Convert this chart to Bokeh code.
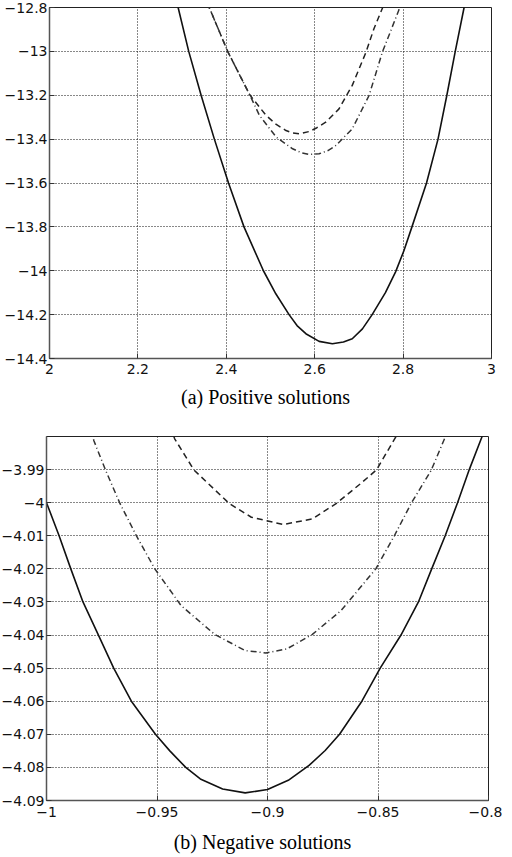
from bokeh.plotting import figure
from bokeh.layouts import column
from bokeh.models import FixedTicker
from bokeh.embed import file_html
from bokeh.resources import INLINE

# ---------------- (a) Positive solutions ----------------
a_x_ticks = [2.0, 2.2, 2.4, 2.6, 2.8, 3.0]
a_x_labels = ["2", "2.2", "2.4", "2.6", "2.8", "3"]
a_y_ticks = [-14.4, -14.2, -14.0, -13.8, -13.6, -13.4, -13.2, -13.0, -12.8]
a_y_labels = ["\u221214.4", "\u221214.2", "\u221214", "\u221213.8", "\u221213.6",
              "\u221213.4", "\u221213.2", "\u221213", "\u221212.8"]

a_solid_x = [2.285, 2.291, 2.315, 2.343, 2.373, 2.405, 2.440, 2.484, 2.512, 2.542,
             2.560, 2.580, 2.610, 2.640, 2.665, 2.685, 2.708, 2.730, 2.760, 2.783,
             2.802, 2.820, 2.853, 2.879, 2.899, 2.918, 2.938, 2.944]
a_solid_y = [-12.75, -12.80, -13.00, -13.20, -13.40, -13.60, -13.80, -14.00, -14.105, -14.20,
             -14.25, -14.287, -14.322, -14.333, -14.325, -14.31, -14.265, -14.20, -14.10, -14.005,
             -13.908, -13.80, -13.60, -13.40, -13.20, -13.00, -12.80, -12.75]

a_dash_x = [2.357, 2.3626, 2.404, 2.453, 2.490, 2.513, 2.535, 2.550, 2.565, 2.588,
            2.605, 2.625, 2.655, 2.685, 2.716, 2.734, 2.751, 2.758]
a_dash_y = [-12.78, -12.806, -13.004, -13.198, -13.292, -13.333, -13.361, -13.372, -13.376, -13.365,
            -13.348, -13.323, -13.262, -13.155, -13.004, -12.897, -12.814, -12.78]

a_dashdot_x = [2.357, 2.3626, 2.404, 2.453, 2.475, 2.513, 2.550, 2.570, 2.588, 2.610,
               2.630, 2.648, 2.685, 2.723, 2.753, 2.790, 2.794]
a_dashdot_y = [-12.78, -12.806, -13.004, -13.198, -13.292, -13.391, -13.444, -13.462, -13.470, -13.467,
               -13.452, -13.429, -13.353, -13.201, -13.004, -12.814, -12.78]

# ---------------- (b) Negative solutions ----------------
b_x_ticks = [-1.0, -0.95, -0.9, -0.85, -0.8]
b_x_labels = ["\u22121", "\u22120.95", "\u22120.9", "\u22120.85", "\u22120.8"]
b_y_ticks = [-4.09, -4.08, -4.07, -4.06, -4.05, -4.04, -4.03, -4.02, -4.01, -4.0, -3.99]
b_y_labels = ["\u22124.09", "\u22124.08", "\u22124.07", "\u22124.06", "\u22124.05", "\u22124.04",
              "\u22124.03", "\u22124.02", "\u22124.01", "\u22124", "\u22123.99"]

b_solid_x = [-1.0, -0.9943, -0.989, -0.9835, -0.9765, -0.9696, -0.9616, -0.9507, -0.9442, -0.937,
             -0.9304, -0.9203, -0.9101, -0.900, -0.8906, -0.8812, -0.8739, -0.8674, -0.8573, -0.849,
             -0.8396, -0.8317, -0.8257, -0.8196, -0.814, -0.8087, -0.8029, -0.801]
b_solid_y = [-4.000, -4.010, -4.020, -4.030, -4.040, -4.050, -4.060, -4.070, -4.075, -4.080,
             -4.0835, -4.0865, -4.0877, -4.0867, -4.0839, -4.0794, -4.0749, -4.070, -4.060, -4.050,
             -4.040, -4.030, -4.020, -4.010, -4.000, -3.990, -3.980, -3.977]

b_dash_x = [-0.944, -0.9420, -0.9333, -0.9174, -0.9073, -0.8928, -0.8797, -0.8688, -0.858,
            -0.8507, -0.842, -0.840]
b_dash_y = [-3.977, -3.9807, -3.9901, -4.0002, -4.0044, -4.0066, -4.0049, -4.0002, -3.9943,
            -3.9901, -3.9802, -3.977]

b_dashdot_x = [-0.980, -0.9786, -0.9732, -0.9667, -0.9594, -0.951, -0.9391, -0.9239, -0.9101,
               -0.9007, -0.8913, -0.8797, -0.8667, -0.851, -0.8426, -0.8348, -0.826, -0.8196, -0.819]
b_dashdot_y = [-3.977, -3.9812, -3.9903, -4.0003, -4.0099, -4.020, -4.0311, -4.0398, -4.0447,
               -4.0454, -4.0442, -4.0398, -4.0326, -4.020, -4.010, -4.000, -3.9903, -3.9802, -3.978]

TICK_FONT = "DejaVu Sans"
CAP_FONT = "Liberation Serif"


def style(p, xt, xl, yt, yl, caption, lab_standoff, cap_standoff):
    p.background_fill_color = "white"
    p.border_fill_color = "white"
    p.outline_line_color = "#222222"
    p.outline_line_width = 1
    p.xaxis.ticker = FixedTicker(ticks=xt)
    p.yaxis.ticker = FixedTicker(ticks=yt)
    p.xaxis.major_label_overrides = dict(zip(xt, xl))
    p.yaxis.major_label_overrides = dict(zip(yt, yl))
    for ax in (p.xaxis[0], p.yaxis[0]):
        ax.major_tick_in = 5
        ax.major_tick_out = 0
        ax.minor_tick_in = 0
        ax.minor_tick_out = 0
        ax.major_tick_line_color = "#333333"
        ax.axis_line_color = "#555555"
        ax.axis_line_width = 1.5
        ax.major_label_text_font = TICK_FONT
        ax.major_label_text_font_size = "14px"
        ax.major_label_text_color = "#111111"
    p.yaxis.major_label_standoff = 2
    p.xaxis.major_label_standoff = lab_standoff
    p.xaxis.axis_label = caption
    p.xaxis.axis_label_text_font = CAP_FONT
    p.xaxis.axis_label_text_font_size = "20px"
    p.xaxis.axis_label_text_font_style = "normal"
    p.xaxis.axis_label_text_color = "#000000"
    p.xaxis.axis_label_standoff = cap_standoff
    for g in (p.xgrid[0], p.ygrid[0]):
        g.grid_line_color = "#111111"
        g.grid_line_dash = "1 2"
        g.grid_line_width = 1
        g.grid_line_alpha = 1.0


def draw(p, sx, sy, dx, dy, ddx, ddy):
    p.line(sx, sy, line_color="#111111", line_width=1.6)
    p.line(dx, dy, line_color="#222222", line_width=1.5, line_dash="6 4")
    p.line(ddx, ddy, line_color="#333333", line_width=1.5, line_dash="6 3 1 3")


p1 = figure(width=505, height=416, x_range=(2.0, 3.0), y_range=(-14.4, -12.8),
            output_backend="svg", toolbar_location=None,
            min_border_left=49, min_border_right=12, min_border_top=7, min_border_bottom=58)
style(p1, a_x_ticks, a_x_labels, a_y_ticks, a_y_labels, "(a)  Positive  solutions", 5, 9)
draw(p1, a_solid_x, a_solid_y, a_dash_x, a_dash_y, a_dashdot_x, a_dashdot_y)

p2 = figure(width=508, height=440, x_range=(-1.0, -0.8), y_range=(-4.09, -3.98),
            output_backend="svg", toolbar_location=None,
            min_border_left=49, min_border_right=14, min_border_top=20, min_border_bottom=56,
            margin=(0, 0, 0, -3))
style(p2, b_x_ticks, b_x_labels, b_y_ticks, b_y_labels, "(b)  Negative  solutions", 6, 11)
draw(p2, b_solid_x, b_solid_y, b_dash_x, b_dash_y, b_dashdot_x, b_dashdot_y)

layout = column(p1, p2, spacing=0)

with open("out.html", "w") as f:
    f.write(file_html(layout, INLINE))
